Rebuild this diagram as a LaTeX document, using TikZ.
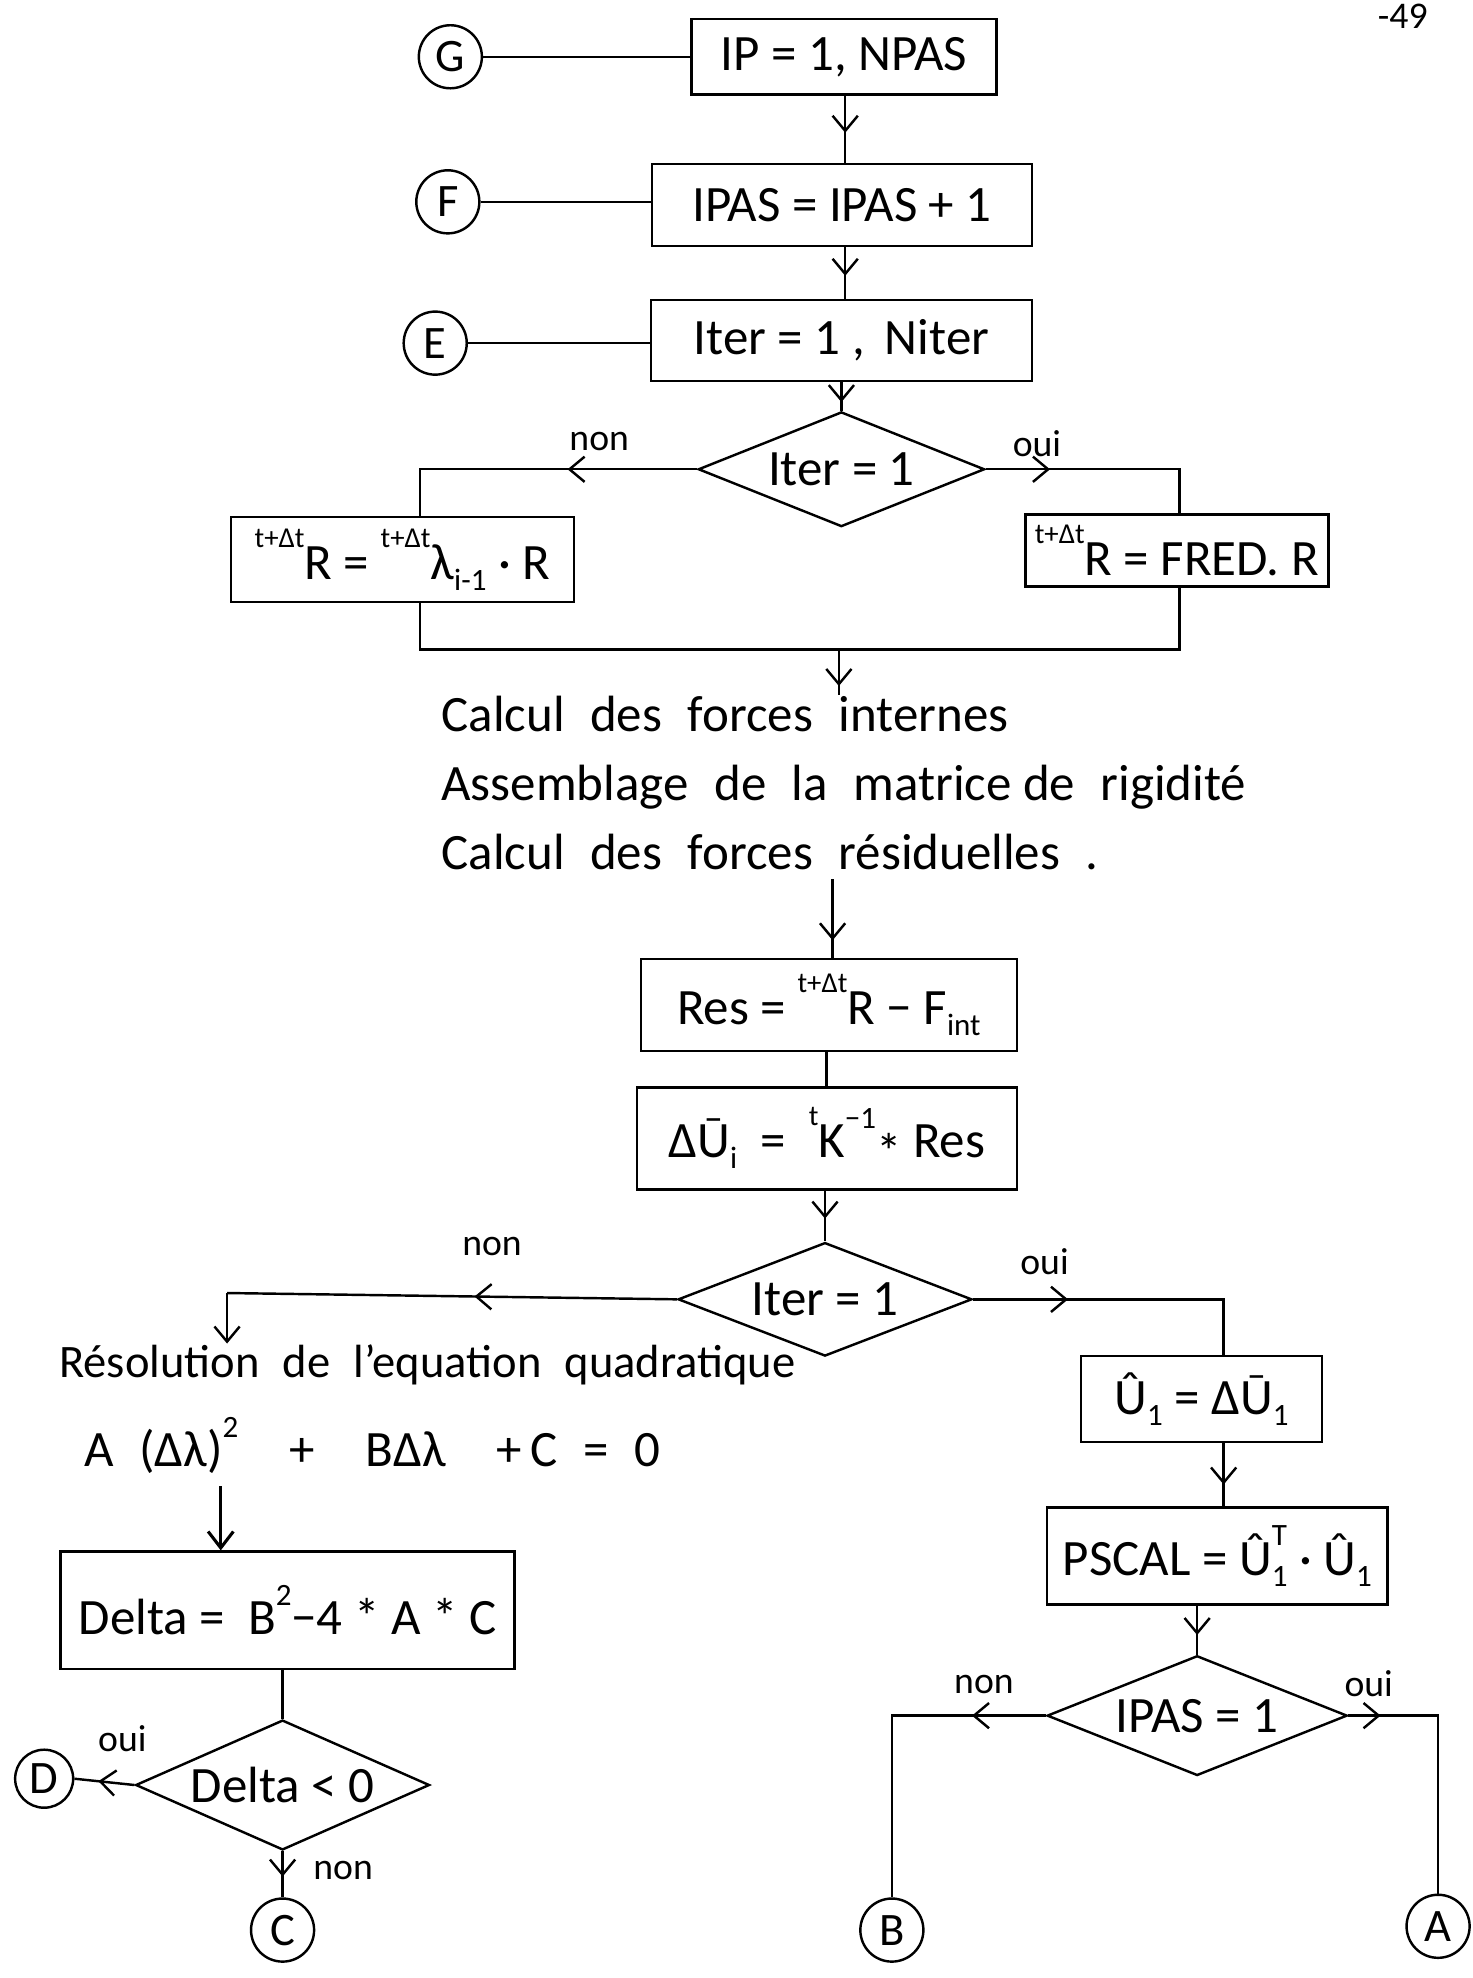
\documentclass[tikz,border=0pt]{standalone}
\usepackage{fontspec}
\setmainfont{Carlito}
\usetikzlibrary{shapes.geometric,arrows.meta,decorations.markings,calc}
\newcommand\presup[1]{\raisebox{1.3ex}{\fontsize{13}{13}\selectfont #1}}
\newcommand\postsub[1]{\raisebox{-0.45ex}{\fontsize{14}{14}\selectfont #1}}
\newcommand\postsup[1]{\raisebox{1.2ex}{\fontsize{14}{14}\selectfont #1}}
\begin{document}
\begin{tikzpicture}[x=0.02cm,y=-0.02cm, line width=1.1pt,
  box/.style={draw, rectangle, inner sep=0pt, font=\fontsize{23}{27}\selectfont},
  dec/.style={draw, diamond, inner sep=0pt, shape aspect=2.5, font=\fontsize{23}{27}\selectfont},
  conn/.style={draw, circle, minimum size=1cm, inner sep=0pt, font=\fontsize{21}{24}\selectfont},
  lbl/.style={font=\fontsize{17}{19}\selectfont, inner sep=1pt},
  big/.style={font=\fontsize{23}{31}\selectfont, inner sep=0pt},
  midarr/.style={postaction={decorate}, decoration={markings, mark=at position #1 with {\arrow{Straight Barb[length=2.4mm,width=4mm]}}}},
  midarr/.default=0.5]
\useasboundingbox (0,0) rectangle (1167,1568);

% page number
\node[lbl] (pg) at (1112,13) {-49};

% top loop headers
\node[conn] (G) at (357,45) {G};
\node[box, minimum width=4.84cm, minimum height=1.2cm] (ip) at (669,45) {IP = 1, NPAS};
\node[conn] (F) at (355,160) {F};
\node[box, minimum width=6.02cm, minimum height=1.3cm] (ipas) at (667.5,162.5) {IPAS = IPAS + 1};
\node[conn] (E) at (345,272) {E};
\node[box, minimum width=6.04cm, minimum height=1.28cm] (iter) at (667,270) {Iter = 1 ,\, Niter};

\draw (G) -- (G -| ip.west);
\draw (F) -- (F -| ipas.west);
\draw (E) -- (E -| iter.west);
\draw[midarr=0.55] (670,75) -- (670,130);
\draw[midarr=0.55] (670,195) -- (670,238);

% first decision
\node[dec, minimum width=4.54cm, minimum height=1.82cm] (d1) at (667,372) {Iter = 1};
\draw[midarr=0.7] (iter.south -| d1.north) -- (d1.north);
\node[box, minimum width=5.44cm, minimum height=1.34cm] (lbox) at (319,443.5) {\presup{t+Δt}R = \presup{t+Δt}λ\postsub{i-1} · R};
\node[box, minimum width=4.8cm, minimum height=1.14cm] (rbox) at (933,436.5) {\presup{t+Δt}R = FRED. R};
\coordinate (c1) at (333,372);
\coordinate (c2) at (935,372);
\draw[midarr=0.4] (d1.west) -- (c1) -- (c1 |- lbox.north);
\draw[midarr=0.27] (d1.east) -- (c2) -- (c2 |- rbox.north);
\node[lbl] (non1) at (475,350) {non};
\node[lbl] (oui1) at (822,352) {oui};
\coordinate (j1) at (333,515);
\coordinate (j2) at (935,515);
\coordinate (j) at (665,515);
\draw (c1 |- lbox.south) -- (j1) -- (j2) -- (c2 |- rbox.south);

% text block
\node[big, anchor=north west, align=left] (calc) at (349,551)
  {Calcul\enspace des\enspace forces\enspace internes\\
   Assemblage\enspace de\enspace la\enspace matrice de\enspace rigidité\\
   Calcul\enspace des\enspace forces\enspace résiduelles\enspace .};
\draw[midarr=0.8] (j) -- (j |- calc.north);

% residual boxes
\node[box, minimum width=5.96cm, minimum height=1.46cm] (res) at (657,796.5) {Res = \presup{t+Δt}R − F\postsub{int}};
\coordinate (c3) at (660,697);
\draw[midarr=0.78] (c3) -- (c3 |- res.north);
\node[box, minimum width=6.02cm, minimum height=1.62cm] (du) at (655.5,902.5) {ΔŪ\postsub{i} \ = \ \presup{t}K\postsup{−1}\raisebox{-0.5ex}{*} Res};
\draw (655,833) -- (655,862);

% second decision
\node[dec, minimum width=4.66cm, minimum height=1.8cm] (d2) at (654,1030) {Iter = 1};
\draw[midarr=0.55] (du.south -| d2.north) -- (d2.north);
\node[lbl] (non2) at (390,988) {non};
\node[lbl] (oui2) at (828,1000) {oui};

% left branch
\node[big, font=\fontsize{21}{25}\selectfont, anchor=west] (reso) at (46,1082) {Résolution\enspace de\enspace l'equation\enspace quadratique};
\node[big, anchor=west] (eqn) at (66,1146) {A\enspace(Δλ)\postsup{2}\quad+\quad BΔλ\quad+\,C\enspace=\enspace 0};
\coordinate (k2) at (180,1025);
\draw[midarr=0.45] (d2.west) -- (k2);
\draw[-{Straight Barb[length=2.4mm,width=4mm]}] (k2) -- (k2 |- reso.north);
\node[box, minimum width=7.2cm, minimum height=1.86cm] (dbox) at (228,1276.5) {Delta = \ B\postsup{2}−4 * A * C};
\coordinate (eqd) at (175,1178);
\draw[-{Straight Barb[length=2.6mm,width=4mm]}, line width=1.4pt] (eqd) -- (eqd |- dbox.north);
\node[dec, minimum width=4.66cm, minimum height=2.06cm] (d3) at (224,1415) {Delta < 0};
\draw (dbox.south -| d3.north) -- (d3.north);
\node[conn, minimum size=0.92cm] (D) at (35,1410) {D};
\node[conn] (C) at (224,1530) {C};
\draw[midarr=0.6] (d3.west) -- (D.east);
\draw[midarr=0.55] (d3.south) -- (C.north);
\node[lbl] (oui3) at (97,1378) {oui};
\node[lbl] (non3) at (272,1483) {non};

% right branch
\node[box, minimum width=3.82cm, minimum height=1.36cm] (ubox) at (952.5,1109) {Û\postsub{1} = ΔŪ\postsub{1}\hspace{1.1cm}};
\coordinate (k3) at (970,1030);
\draw[midarr=0.31] (d2.east) -- (k3) -- (k3 |- ubox.north);
\node[box, minimum width=5.4cm, minimum height=1.54cm] (pscal) at (965,1233.5) {PSCAL = Û\rlap{\postsup{T}}\postsub{1} · Û\postsub{1}};
\draw[midarr=0.65] (970,1143) -- (970,1195);
\node[dec, minimum width=4.76cm, minimum height=1.9cm] (d4) at (949,1360) {IPAS = 1};
\draw[midarr=0.6] (pscal.south -| d4.north) -- (d4.north);
\node[conn] (B) at (707,1530) {B};
\node[conn] (A) at (1140,1527) {A};
\coordinate (k4) at (707,1360);
\coordinate (k5) at (1140,1360);
\draw[midarr=0.22] (d4.west) -- (k4) -- (B.north);
\draw[midarr=0.12] (d4.east) -- (k5) -- (A.north);
\node[lbl] (non4) at (780,1335) {non};
\node[lbl] (oui4) at (1085,1335) {oui};
\end{tikzpicture}
\end{document}
